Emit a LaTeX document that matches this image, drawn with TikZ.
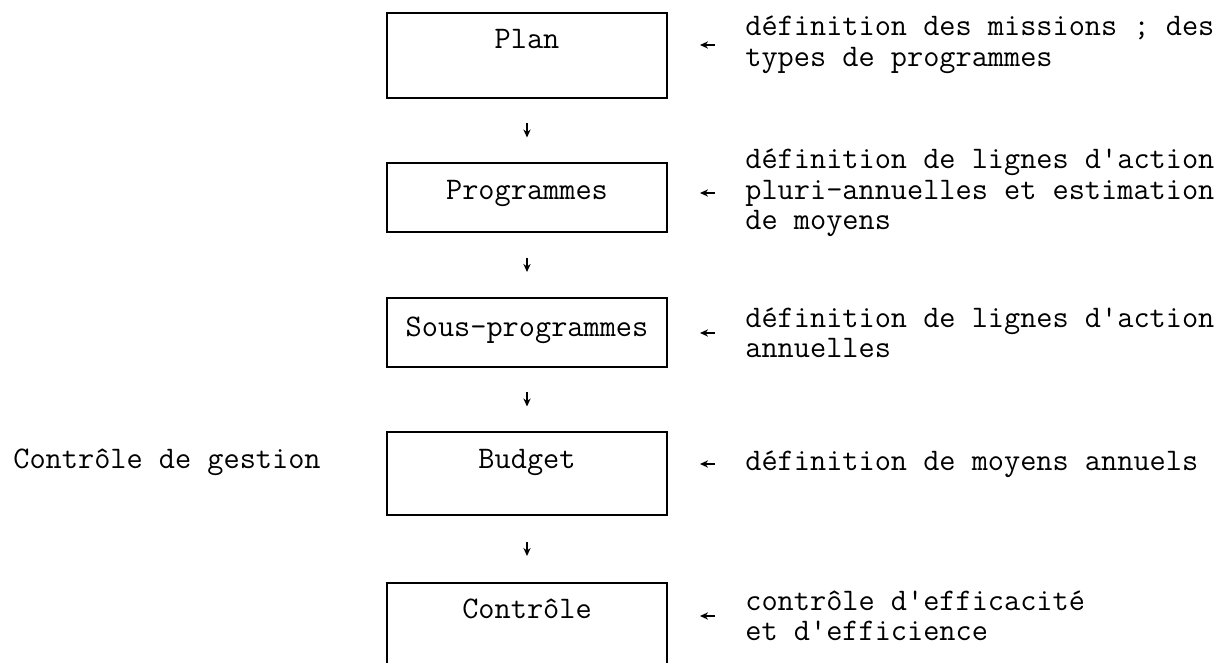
\documentclass[tikz,border=0pt]{standalone}
\usetikzlibrary{arrows.meta,calc}
\begin{document}
\begin{tikzpicture}[x=0.5pt,y=-0.5pt,
  box/.style={draw,line width=1pt,minimum width=140pt,inner sep=0pt},
  txt/.style={font=\fontsize{15.7}{15.25}\selectfont\ttfamily,inner sep=0pt},
  side/.style={txt,align=left,anchor=west},
  flow/.style={line width=0.9pt,-{Stealth[length=4pt,width=3.6pt]}}]
\useasboundingbox (0,0) rectangle (1227,663);
\clip (0,0) rectangle (1227,663);

% boxes of the chain
\node[box,minimum height=42.5pt] (plan) at (527,55.5) {};
\node[box,minimum height=34.5pt] (prog) at (527,197.5) {};
\node[box,minimum height=34.5pt] (sous) at (527,332.5) {};
\node[box,minimum height=41.5pt] (budg) at (527,473.5) {};
\node[box,minimum height=60pt]   (ctrl) at (527,643) {};

% box titles
\node[txt,anchor=mid] (planT) at (527,44)  {Plan};
\node[txt,anchor=mid] (progT) at (527,195) {Programmes};
\node[txt,anchor=mid] (sousT) at (527,332) {Sous-programmes};
\node[txt,anchor=mid] (budgT) at (527,464) {Budget};
\node[txt,anchor=mid] (ctrlT) at (527,614) {Contrôle};

% left label
\node[txt,anchor=mid west] (gest) at (13,464) {Contrôle de gestion};

% right descriptions
\node[side] (d1) at (745,45)  {définition des missions ; des\\types de programmes};
\node[side] (d2) at (745,193) {définition de lignes d'action\\pluri-annuelles et estimation\\de moyens};
\node[side] (d3) at (745,333) {définition de lignes d'action\\annuelles};
\node[side] (d4) at (745,464) {définition de moyens annuels};
\node[side] (d5) at (745,616) {contrôle d'efficacité\\et d'efficience};

% downward arrows between boxes
\foreach \a/\b in {plan/prog,prog/sous,sous/budg,budg/ctrl}{
  \coordinate (m) at ($(\a.south)!0.5!(\b.north)$);
  \draw[flow] ($(m)+(0,-7)$) -- ($(m)+(0,7)$);
}

% arrows from descriptions towards boxes
\foreach \d in {d1,d2,d3,d4,d5}{
  \draw[flow] ([xshift=-15pt]\d.west) -- ([xshift=-22.5pt]\d.west);
}
\end{tikzpicture}
\end{document}
